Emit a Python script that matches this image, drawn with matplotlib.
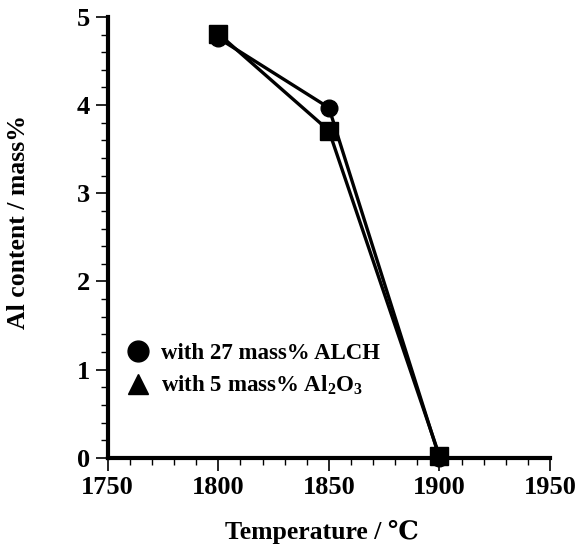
import matplotlib
matplotlib.use("Agg")
import matplotlib.pyplot as plt
from matplotlib.lines import Line2D
from matplotlib.ticker import MultipleLocator

# data
temps = [1800, 1850, 1900]
al_alch = [4.76, 3.97, 0.0]     # circles, 27 mass% ALCH
al_al2o3 = [4.81, 3.71, 0.02]   # squares, 5 mass% Al2O3
legend_labels = ["with 27 mass% ALCH", r"with 5 mass% Al$_\mathregular{2}$O$_\mathregular{3}$"]

plt.rcParams.update({
    "font.family": ["Liberation Serif", "DejaVu Serif"],
    "font.weight": "bold",
    "mathtext.default": "regular",
})

fig = plt.figure(figsize=(5.76, 5.45), dpi=100)
ax = fig.add_axes([0.187, 0.16, 0.768, 0.809])

ax.plot(temps, al_alch, color="black", lw=2.4, marker="o", ms=12, clip_on=False, zorder=3)
ax.plot(temps, al_al2o3, color="black", lw=2.4, marker="s", ms=13, clip_on=False, zorder=3)

ax.set_xlim(1750, 1950)
ax.set_ylim(0, 5)
ax.xaxis.set_major_locator(MultipleLocator(50))
ax.xaxis.set_minor_locator(MultipleLocator(10))
ax.yaxis.set_major_locator(MultipleLocator(1))
ax.yaxis.set_minor_locator(MultipleLocator(0.2))

for side in ["top", "right"]:
    ax.spines[side].set_visible(False)
for side in ["left", "bottom"]:
    ax.spines[side].set_linewidth(3)

ax.tick_params(which="major", direction="out", length=9, width=1.2, labelsize=19, pad=4)
ax.tick_params(which="minor", direction="out", length=5, width=1.0)
for lab in ax.get_xticklabels() + ax.get_yticklabels():
    lab.set_fontweight("bold")

ax.set_xlabel("Temperature / ℃", fontsize=18.5, fontweight="bold")
ax.xaxis.set_label_coords(0.483, -0.141)
ax.set_ylabel("Al content / mass%", fontsize=18.5, fontweight="bold")
ax.yaxis.set_label_coords(-0.176, 0.535)

handles = [
    Line2D([], [], color="black", marker="o", ls="none", ms=15),
    Line2D([], [], color="black", marker="^", ls="none", ms=15),
]
ax.legend(handles, legend_labels, loc="lower left", bbox_to_anchor=(-0.03, 0.09),
          frameon=False, handletextpad=0.0, labelspacing=0.45,
          prop={"weight": "bold", "size": 16.5})

fig.savefig("out.png", dpi=100)
